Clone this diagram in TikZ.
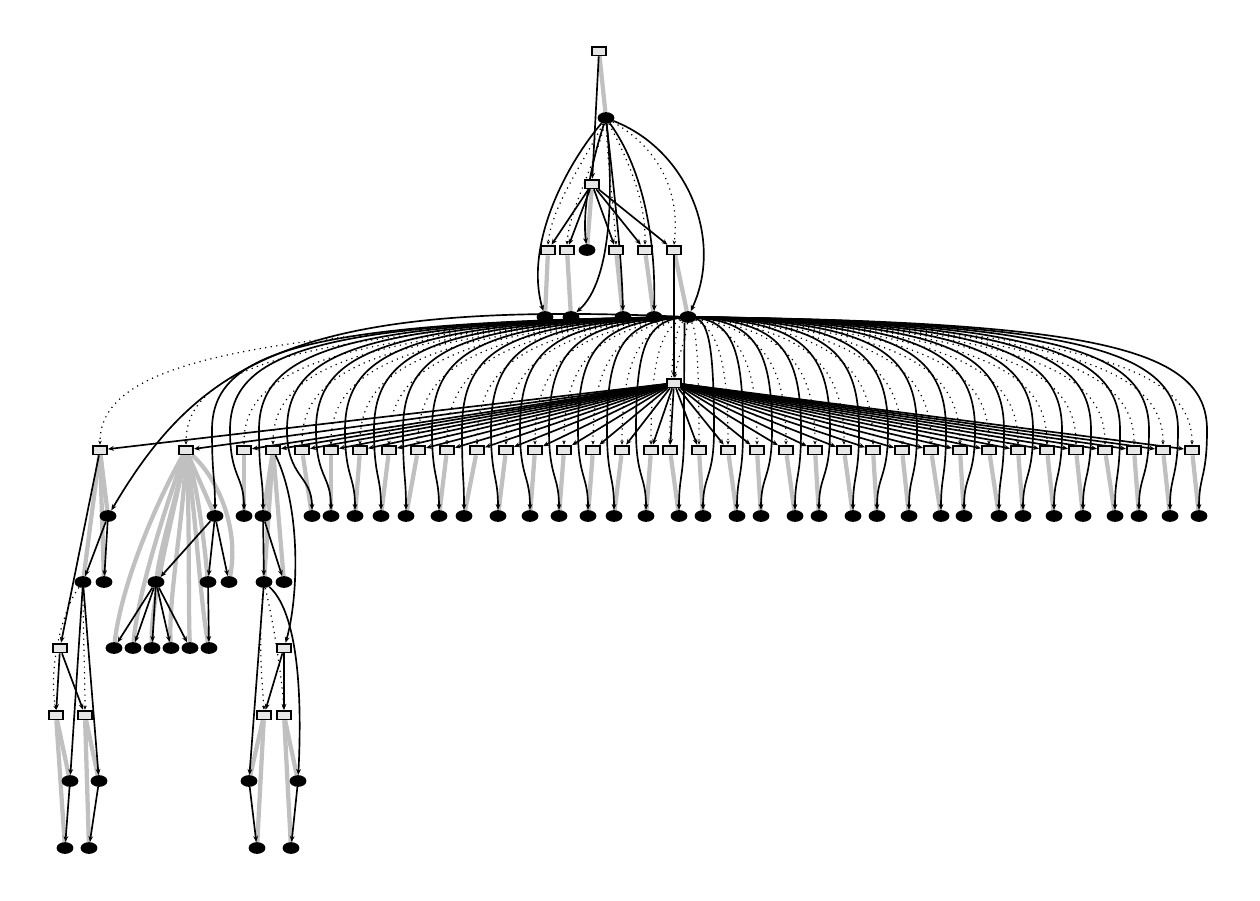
\documentclass[tikz,border=0pt]{standalone}
\usetikzlibrary{shapes.geometric,arrows.meta}
\definecolor{boxgray}{HTML}{E6E6E6}
\definecolor{edgegray}{HTML}{C0C0C0}
\pgfdeclarelayer{bg}
\pgfsetlayers{bg,main}
\tikzset{
  bx/.style={draw=black, fill=boxgray, line width=1.35pt, minimum width=10.6pt, minimum height=6.6pt, inner sep=0pt},
  el/.style={ellipse, fill=black, draw=none, minimum width=12.6pt, minimum height=8.8pt, inner sep=0pt},
  blk/.style={line width=1.25pt, -{Stealth[length=4.4pt,width=3.6pt]}},
  gry/.style={line width=3.2pt, draw=edgegray},
  dotl/.style={line width=0.9pt, dash pattern=on 0.9pt off 3.3pt, -{Stealth[length=3pt,width=2.6pt]}},
}
\def\levsix{100/108, 186/215, 244/244, 273/263, 302/312, 331/331, 360/355, 389/381, 418/406, 447/439, 477/464, 506/498, 535/530, 564/559, 593/588, 622/614, 651/646, 670/679, 699/703, 728/737, 757/761, 786/795, 815/819, 844/853, 873/877, 902/909, 931/941, 960/964, 989/999, 1018/1023, 1047/1054, 1076/1083, 1105/1115, 1134/1139, 1163/1170, 1192/1199}
\begin{document}
\begin{tikzpicture}[x=0.75pt,y=-0.75pt]
\useasboundingbox (0,0) rectangle (1260,900);
% ---------- nodes ----------
\node[bx] (n0) at (599,51) {};
\node[el] (e1) at (606,118) {};
\node[bx] (b2) at (592,184) {};
\node[bx] (b3a) at (548,250) {};
\node[bx] (b3b) at (567,250) {};
\node[el] (e3) at (587,250) {};
\node[bx] (b3c) at (616,250) {};
\node[bx] (b3d) at (645,250) {};
\node[bx] (b3e) at (674,250) {};
\node[el] (e4a) at (545,317) {};
\node[el] (e4b) at (571,317) {};
\node[el] (e4c) at (623,317) {};
\node[el] (e4d) at (654,317) {};
\node[el] (hub) at (688,317) {};
\node[bx] (b5) at (674,383) {};
\foreach \bx/\ex [count=\i] in \levsix {
  \node[bx] (b6-\i) at (\bx,450) {};
  \node[el] (e7-\i) at (\ex,516) {};
}
\node[el] (e8a) at (83,582) {};
\node[el] (e8b) at (104,582) {};
\node[el] (e8c) at (156,582) {};
\node[el] (e8d) at (208,582) {};
\node[el] (e8e) at (229,582) {};
\node[el] (e8f) at (264,582) {};
\node[el] (e8g) at (284,582) {};
\node[bx] (b9a) at (60,648) {};
\foreach \x [count=\i] in {114,133,152,171,190,209} {
  \node[el] (e9-\i) at (\x,648) {};
}
\node[bx] (b9b) at (284,648) {};
\node[bx] (b10a) at (56,715) {};
\node[bx] (b10b) at (85,715) {};
\node[bx] (b10c) at (264,715) {};
\node[bx] (b10d) at (284,715) {};
\node[el] (e11a) at (70,781) {};
\node[el] (e11b) at (99,781) {};
\node[el] (e11c) at (249,781) {};
\node[el] (e11d) at (298,781) {};
\node[el] (e12a) at (65,848) {};
\node[el] (e12b) at (89,848) {};
\node[el] (e12c) at (257,848) {};
\node[el] (e12d) at (291,848) {};
% ---------- edges ----------
\begin{pgfonlayer}{bg}
% gray
\draw[gry] (n0) -- (e1);
\draw[gry] (b2) -- (e3);
\draw[gry] (b3a) -- (e4a);
\draw[gry] (b3b) -- (e4b);
\draw[gry] (b3c) -- (e4c);
\draw[gry] (b3d) -- (e4d);
\draw[gry] (b3e) -- (hub);
\foreach \bx/\ex [count=\i] in \levsix {
  \draw[gry] (b6-\i) -- (e7-\i);
}
\draw[gry] (b6-1) -- (e8a);
\draw[gry] (b6-1) -- (e8b);
\draw[gry] (b6-2) .. controls (215,475) and (240,525) .. (e8e);
\draw[gry] (b6-2) .. controls (198,490) and (204,540) .. (e8d);
\draw[gry] (b6-2) .. controls (176,500) and (162,540) .. (e8c);
\draw[gry] (b6-2) .. controls (160,495) and (122,580) .. (e9-1);
\draw[gry] (b6-2) .. controls (168,500) and (138,590) .. (e9-2);
\draw[gry] (b6-2) .. controls (176,505) and (150,600) .. (e9-3);
\draw[gry] (b6-2) .. controls (184,515) and (168,600) .. (e9-4);
\draw[gry] (b6-2) .. controls (190,515) and (188,600) .. (e9-5);
\draw[gry] (b6-2) .. controls (196,515) and (200,600) .. (e9-6);
\draw[gry] (b6-4) -- (e8f);
\draw[gry] (b6-4) -- (e8g);
\draw[gry] (b10a) -- (e11a);
\draw[gry] (b10a) -- (e12a);
\draw[gry] (b10b) -- (e11b);
\draw[gry] (b10b) -- (e12b);
\draw[gry] (b10c) -- (e11c);
\draw[gry] (b10c) -- (e12c);
\draw[gry] (b10d) -- (e11d);
\draw[gry] (b10d) -- (e12d);
% dotted
\draw[dotl] (e1) .. controls (585,160) and (552,205) .. (b3a.north);
\draw[dotl] (e1) .. controls (595,165) and (569,210) .. (b3b.north);
\draw[dotl] (e1) .. controls (608,170) and (614,210) .. (b3c.north);
\draw[dotl] (e1) .. controls (628,160) and (646,200) .. (b3d.north);
\draw[dotl] (e1) .. controls (662,150) and (680,195) .. (b3e.north);
\draw[dotl] (hub) .. controls (686,340) and (678,355) .. (b5);
\foreach \bx/\ex [count=\i, evaluate=\bx as \cd using {688+0.8*(\bx-688)}] in \levsix {
  \draw[dotl] (hub) .. controls (\cd,330) and (\bx,370) .. (b6-\i.north);
}
\draw[dotl] (e8a) .. controls (62,610) and (48,670) .. (b10a.north);
\draw[dotl] (e8a) .. controls (83,630) and (85,675) .. (b10b.north);
\draw[dotl] (e8f) .. controls (258,640) and (262,680) .. (b10c.north);
\draw[dotl] (e8f) .. controls (275,630) and (282,680) .. (b10d.north);
% black
\draw[blk] (n0) -- (b2);
\draw[blk] (b2) -- (b3a);
\draw[blk] (b2) -- (b3b);
\draw[blk] (b2) -- (b3c);
\draw[blk] (b2) -- (b3d);
\draw[blk] (b2) -- (b3e);
\draw[blk] (e1) .. controls (566,165) and (524,245) .. (e4a);
\draw[blk] (e1) .. controls (592,160) and (582,210) .. (e3);
\draw[blk] (e1) .. controls (613,185) and (613,280) .. (e4b);
\draw[blk] (e1) .. controls (615,200) and (622,260) .. (e4c);
\draw[blk] (e1) .. controls (640,165) and (656,230) .. (e4d);
\draw[blk] (e1) .. controls (688,150) and (724,240) .. (hub);
\draw[blk] (b3e) -- (b5);
\foreach \bx/\ex [count=\i] in \levsix {
  \draw[blk] (b5) -- (b6-\i);
}
\draw[blk] (hub) .. controls (300,300) and (200,360) .. (e7-1);
\foreach \bx/\ex/\wx [count=\j from 2, evaluate=\wx as \ca using {688+0.8*(\wx-688)}] in {186/215/212, 244/244/230, 273/263/259, 302/312/287, 331/331/316, 360/355/345, 389/381/374, 418/406/403, 447/439/432, 477/464/462, 506/498/491, 535/530/520, 564/559/549, 593/588/578, 622/614/607, 651/646/636, 670/679/684, 699/703/714, 728/737/743, 757/761/772, 786/795/801, 815/819/830, 844/853/859, 873/877/888, 902/909/917, 931/941/946, 960/964/975, 989/999/1004, 1018/1023/1033, 1047/1054/1062, 1076/1083/1091, 1105/1115/1120, 1134/1139/1149, 1163/1170/1178, 1192/1199/1207} {
  \draw[blk] (hub) .. controls (\ca,322) and (\wx,350) .. (\wx,430) .. controls (\wx,478) and (\ex,475) .. (e7-\j);
}
\draw[blk] (b6-1) -- (b9a);
\draw[blk] (e7-1) -- (e8a);
\draw[blk] (e7-1) -- (e8b);
\draw[blk] (e8a) -- (e11a);
\draw[blk] (e8a) -- (e11b);
\draw[blk] (b9a) -- (b10a);
\draw[blk] (b9a) -- (b10b);
\draw[blk] (e11a) -- (e12a);
\draw[blk] (e11b) -- (e12b);
\draw[blk] (e7-2) -- (e8c);
\draw[blk] (e7-2) -- (e8d);
\draw[blk] (e7-2) -- (e8e);
\foreach \i in {1,...,5} { \draw[blk] (e8c) -- (e9-\i); }
\draw[blk] (e8d) -- (e9-6);
\draw[blk] (e7-4) -- (e8f);
\draw[blk] (e7-4) -- (e8g);
\draw[blk] (b6-4) .. controls (302,510) and (298,600) .. (b9b);
\draw[blk] (e8f) -- (e11c);
\draw[blk] (e8f) .. controls (295,610) and (303,680) .. (e11d);
\draw[blk] (b9b) -- (b10c);
\draw[blk] (b9b) -- (b10d);
\draw[blk] (e11c) -- (e12c);
\draw[blk] (e11d) -- (e12d);
\end{pgfonlayer}
\end{tikzpicture}
\end{document}
